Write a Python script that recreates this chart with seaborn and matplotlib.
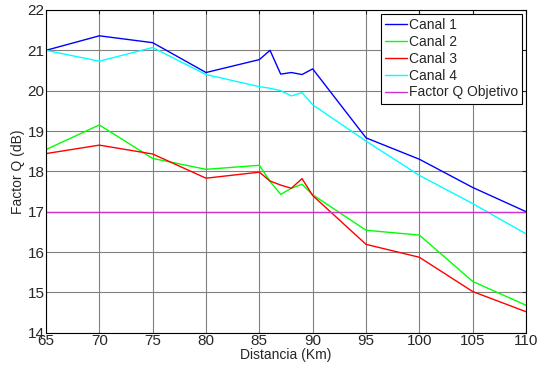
import pandas as pd
import matplotlib
matplotlib.use('Agg')
import matplotlib.pyplot as plt
import seaborn as sns

# Data
dist_main = [65, 70, 75, 80, 85, 86, 87, 88, 89, 90, 95, 100, 105, 110]
canal1 = [21.0, 21.36, 21.19, 20.45, 20.77, 21.0, 20.41, 20.45, 20.40, 20.54, 18.83, 18.3, 17.6, 17.0]
canal2 = [18.54, 19.15, 18.32, 18.05, 18.15, 17.75, 17.43, 17.58, 17.68, 17.42, 16.54, 16.42, 15.27, 14.68]
canal3 = [18.44, 18.65, 18.43, 17.83, 17.98, 17.76, 17.66, 17.58, 17.82, 17.40, 16.19, 15.87, 15.02, 14.52]
canal4 = [21.0, 20.73, 21.07, 20.4, 20.1, 20.06, 20.0, 19.87, 19.95, 19.65, 18.75, 17.9, 17.2, 16.45]
dist_obj = [65, 110]
q_obj = [17, 17]

names = ['Canal 1', 'Canal 2', 'Canal 3', 'Canal 4', 'Factor Q Objetivo']
colors = ['#0000FF', '#00FF00', '#FF0000', '#00FFFF', '#CC33CC']

frames = []
for name, vals in zip(names[:4], [canal1, canal2, canal3, canal4]):
    frames.append(pd.DataFrame({'Distancia': dist_main, 'Q': vals, 'Serie': name}))
frames.append(pd.DataFrame({'Distancia': dist_obj, 'Q': q_obj, 'Serie': names[4]}))
df = pd.concat(frames, ignore_index=True)

sns.set_style('white')
plt.rcParams['font.family'] = ['Liberation Sans Narrow', 'Liberation Sans', 'DejaVu Sans']

fig = plt.figure(figsize=(5.39, 3.77), dpi=100)
ax = fig.add_axes([0.0853, 0.1175, 0.8907, 0.856])

sns.lineplot(data=df, x='Distancia', y='Q', hue='Serie', hue_order=names,
             palette=dict(zip(names, colors)), estimator=None, sort=False,
             linewidth=1.0, ax=ax)

ax.set_xlim(65, 110)
ax.set_ylim(14, 22)
ax.set_xticks(range(65, 111, 5))
ax.set_yticks(range(14, 23))
ax.grid(True, color='#808080', linewidth=0.8)
for s in ax.spines.values():
    s.set_color('black')
    s.set_linewidth(0.8)
ax.tick_params(direction='in', length=3, top=True, right=True, labelsize=11, pad=1)
ax.set_xlabel('Distancia (Km)', fontsize=10, labelpad=0)
ax.set_ylabel('Factor Q (dB)', fontsize=10, labelpad=2)

leg = ax.legend(loc='upper right', fontsize=10, frameon=True, fancybox=False,
                handlelength=1.6, handletextpad=0.1, borderaxespad=0.3,
                labelspacing=0.2, borderpad=0.3)
leg.get_frame().set_edgecolor('black')
leg.get_frame().set_linewidth(0.8)
leg.get_frame().set_alpha(1)

fig.savefig('out.png', dpi=100)
